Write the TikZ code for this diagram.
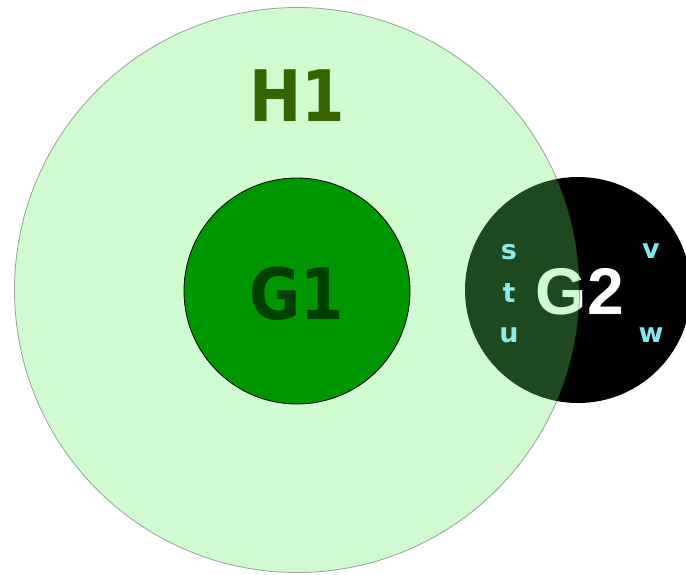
\documentclass[tikz,border=0pt]{standalone}
\usepackage{fontspec}
\setmainfont{DejaVu Sans}
\newfontfamily\labelfont{Liberation Sans}
\definecolor{hfill}{RGB}{101,242,101}
\definecolor{hlabel}{RGB}{55,100,0}
\definecolor{gfill}{RGB}{0,150,0}
\definecolor{glabel}{RGB}{0,64,0}
\definecolor{vertex}{RGB}{130,232,244}
\definecolor{vertexshaded}{RGB}{140,236,232}
\tikzset{
  setdisc/.style={circle, inner sep=0pt, outer sep=0pt},
  bigname/.style={font=\fontsize{71}{71}\selectfont\bfseries, inner sep=0pt, xscale=0.88},
  vlabel/.style={font=\fontsize{27}{27}\selectfont\bfseries, text=vertex, inner sep=0pt}
}
\begin{document}
\begin{tikzpicture}[x=1pt,y=-1pt]
  % canvas
  \fill[white] (0,0) rectangle (686,574);
  \useasboundingbox (0,0) rectangle (686,574);
  \clip (0,0) rectangle (686,574);

  % set G2 and its name
  \node[setdisc, fill=black, minimum size=226pt] (G2) at (578,290) {};
  \node[font=\labelfont\fontsize{66}{66}\selectfont\bfseries, text=white, inner sep=0pt] (g2name) at (580,292) {G2};

  % translucent set H1 over everything below
  \node[setdisc, fill=hfill, fill opacity=0.3, draw=black, draw opacity=0.35, line width=0.8pt, minimum size=565pt] (H1) at (297,290) {};
  \node[bigname, text=hlabel] (h1name) at (297,96) {H1};

  % elements of G2
  \node[vlabel, text=vertexshaded] (s) at (509,252) {s};
  \node[vlabel, text=vertexshaded] (t) at (509,293) {t};
  \node[vlabel, text=vertexshaded] (u) at (509,335) {u};
  \node[vlabel] (v) at (651,251) {v};
  \node[vlabel] (w) at (651,335) {w};

  % set G1 inside H1
  \node[setdisc, fill=gfill, draw=black, line width=0.8pt, minimum size=226pt] (G1) at (297,291) {};
  \node[bigname, text=glabel] (g1name) at (297,294) {G1};
\end{tikzpicture}
\end{document}
